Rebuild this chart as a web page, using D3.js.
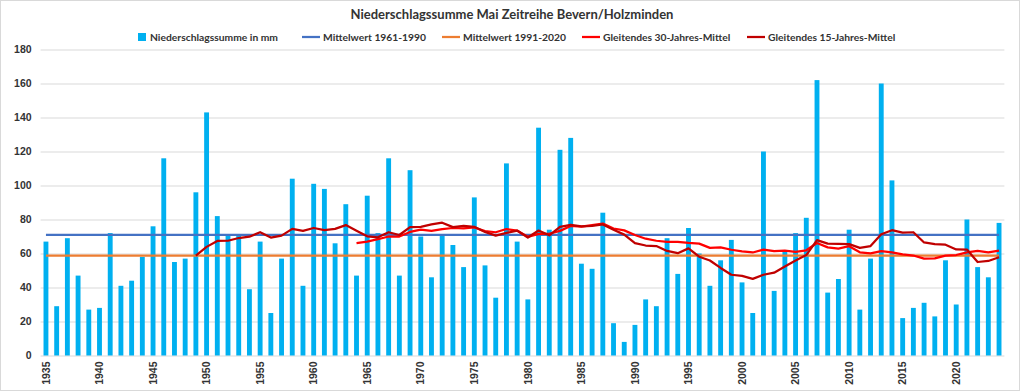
<!DOCTYPE html>
<html>
<head>
<meta charset="utf-8">
<script src="https://cdn.jsdelivr.net/npm/d3@7"></script>
<style>
body { margin:0; background:#fff; }
svg { display:block; font-family: Lato, "Open Sans", sans-serif; }
</style>
</head>
<body>
<svg id="chart" width="1024" height="392"></svg>
<script>
// DATA
var years = d3.range(1935, 2025);
var rain = [67, 29, 69, 47, 27, 28, 72, 41, 44, 58,
  76, 116, 55, 57, 96, 143, 82, 71, 71, 39,
  67, 25, 57, 104, 41, 101, 98, 66, 89, 47,
  94, 72, 116, 47, 109, 70, 46, 71, 65, 52,
  93, 53, 34, 113, 67, 33, 134, 74, 121, 128,
  54, 51, 84, 19, 8, 18, 33, 29, 69, 48,
  75, 60, 41, 56, 68, 43, 25, 120, 38, 61,
  72, 81, 162, 37, 45, 74, 27, 57, 160, 103,
  22, 28, 31, 23, 56, 30, 80, 52, 46, 78];
var mean6190 = 70.9;
var mean9120 = 58.8;
// trailing 30 year mean, from 1964
var ma30Start = 1964;
var ma30 = [66.1, 67.0, 68.4, 70.0, 70.0, 72.7, 74.1, 73.3, 74.3, 75.0,
  74.8, 75.3, 73.2, 72.5, 74.4, 73.4, 69.8, 71.5, 71.6, 73.3,
  76.2, 75.8, 76.7, 77.6, 74.7, 73.6, 70.9, 68.7, 67.5, 66.8,
  66.8, 66.2, 65.8, 63.3, 63.6, 62.2, 61.3, 60.6, 62.3, 61.4,
  61.7, 61.0, 61.9, 66.2, 63.6, 62.9, 64.3, 60.7, 60.1, 61.4,
  60.6, 59.5, 58.8, 57.0, 57.1, 58.7, 59.1, 60.7, 61.5, 60.7,
  61.7];
// trailing 15 year mean, from 1949
var ma15Start = 1949;
var ma15 = [58.8, 63.9, 67.4, 67.5, 69.1, 69.9, 72.5, 69.4, 70.5, 74.5,
  73.3, 75.0, 73.8, 74.5, 76.7, 73.4, 70.1, 69.5, 72.5, 70.9,
  75.5, 75.7, 77.1, 78.1, 75.5, 76.2, 75.7, 72.7, 70.5, 72.1,
  73.5, 69.4, 73.5, 70.7, 75.7, 76.9, 75.9, 76.2, 77.1, 74.0,
  71.1, 66.1, 64.7, 64.4, 61.5, 60.2, 63.0, 58.1, 55.9, 51.5,
  47.5, 46.8, 45.1, 47.5, 48.7, 52.3, 55.9, 59.1, 67.9, 65.8,
  65.6, 65.5, 63.3, 64.4, 71.3, 73.7, 72.3, 72.5, 66.5, 65.5,
  65.2, 62.4, 62.3, 55.0, 55.6, 57.8];
var yTicks = [0, 20, 40, 60, 80, 100, 120, 140, 160, 180];
var xTicks = d3.range(1935, 2025, 5);

var title = "Niederschlagssumme Mai Zeitreihe Bevern/Holzminden";
var legendItems = [
  {label: "Niederschlagssumme in mm", color: "#00B0F0", type: "bar", x: 138},
  {label: "Mittelwert 1961-1990", color: "#4472C4", type: "line", x: 302},
  {label: "Mittelwert 1991-2020", color: "#ED7D31", type: "line", x: 442},
  {label: "Gleitendes 30-Jahres-Mittel", color: "#FF0000", type: "line", x: 582},
  {label: "Gleitendes 15-Jahres-Mittel", color: "#C00000", type: "line", x: 747}
];

var svg = d3.select("#chart");

// outer border
svg.append("rect")
.attr("x", 0.5).attr("y", 0.5)
.attr("width", 1019).attr("height", 390)
.attr("fill", "#fff")
.attr("stroke", "#d9d9d9");

var plotLeft = 40.6, plotRight = 1004.4, plotTop = 49.5, plotBottom = 355.5;

var x = d3.scaleBand()
.domain(years)
.range([plotLeft, plotRight])
.paddingInner(0.545)
.paddingOuter(0.2725);

var y = d3.scaleLinear()
.domain([0, 180])
.range([plotBottom, plotTop]);

var cx = function(yr) { return x(yr) + x.bandwidth() / 2; };

// gridlines + y labels
var yAxis = svg.append("g")
.attr("transform", "translate(" + plotLeft + ",0)")
.call(d3.axisLeft(y).tickValues(yTicks).tickSize(-(plotRight - plotLeft)).tickPadding(9));
yAxis.select(".domain").remove();
yAxis.selectAll("line").attr("stroke", "#d9d9d9").attr("stroke-width", 1);
yAxis.selectAll("text")
.style("font-size", "10.5px")
.style("font-weight", "bold")
.attr("fill", "#333");

// x labels
var xAxis = svg.append("g")
.attr("transform", "translate(0," + plotBottom + ")")
.call(d3.axisBottom(x).tickValues(xTicks).tickSize(0));
xAxis.select(".domain").remove();
xAxis.selectAll("text")
.attr("transform", "rotate(-90)")
.attr("x", -6).attr("y", 0).attr("dy", "0.35em")
.style("text-anchor", "end")
.style("font-size", "10.5px")
.style("font-weight", "bold")
.attr("fill", "#333");

// bars
svg.append("g").selectAll("rect")
.data(rain)
.join("rect")
.attr("x", function(d, i) { return x(years[i]); })
.attr("width", x.bandwidth())
.attr("y", function(d) { return y(d); })
.attr("height", function(d) { return y(0) - y(d); })
.attr("fill", "#00B0F0");

// reference means
var line = d3.line()
.x(function(d) { return cx(d[0]); })
.y(function(d) { return y(d[1]); });

svg.append("path")
.datum(years.map(function(yr) { return [yr, mean6190]; }))
.attr("d", line)
.attr("fill", "none")
.attr("stroke", "#4472C4")
.attr("stroke-width", 2.25);

svg.append("path")
.datum(years.map(function(yr) { return [yr, mean9120]; }))
.attr("d", line)
.attr("fill", "none")
.attr("stroke", "#ED7D31")
.attr("stroke-width", 2.25);

svg.append("path")
.datum(ma30.map(function(v, i) { return [ma30Start + i, v]; }))
.attr("d", line)
.attr("fill", "none")
.attr("stroke", "#FF0000")
.attr("stroke-width", 2.25)
.attr("stroke-linejoin", "round");

svg.append("path")
.datum(ma15.map(function(v, i) { return [ma15Start + i, v]; }))
.attr("d", line)
.attr("fill", "none")
.attr("stroke", "#C00000")
.attr("stroke-width", 2.25)
.attr("stroke-linejoin", "round");

// title
svg.append("text")
.attr("x", 512).attr("y", 19)
.attr("text-anchor", "middle")
.style("font-size", "13px")
.style("font-weight", "bold")
.attr("fill", "#333")
.text(title);

// legend
var lg = svg.append("g").selectAll("g")
.data(legendItems)
.join("g")
.attr("transform", function(d) { return "translate(" + d.x + ",37)"; });

lg.filter(function(d) { return d.type == "bar"; })
.append("rect")
.attr("x", 0).attr("y", -4)
.attr("width", 8).attr("height", 8)
.attr("fill", function(d) { return d.color; });

lg.filter(function(d) { return d.type == "line"; })
.append("line")
.attr("x1", 0).attr("x2", 18)
.attr("stroke", function(d) { return d.color; })
.attr("stroke-width", 2.25);

lg.append("text")
.attr("x", function(d) { return d.type == "bar" ? 12 : 21; })
.attr("dy", "0.35em")
.style("font-size", "10.3px")
.style("font-weight", "bold")
.attr("fill", "#333")
.text(function(d) { return d.label; });
</script>
</body>
</html>
